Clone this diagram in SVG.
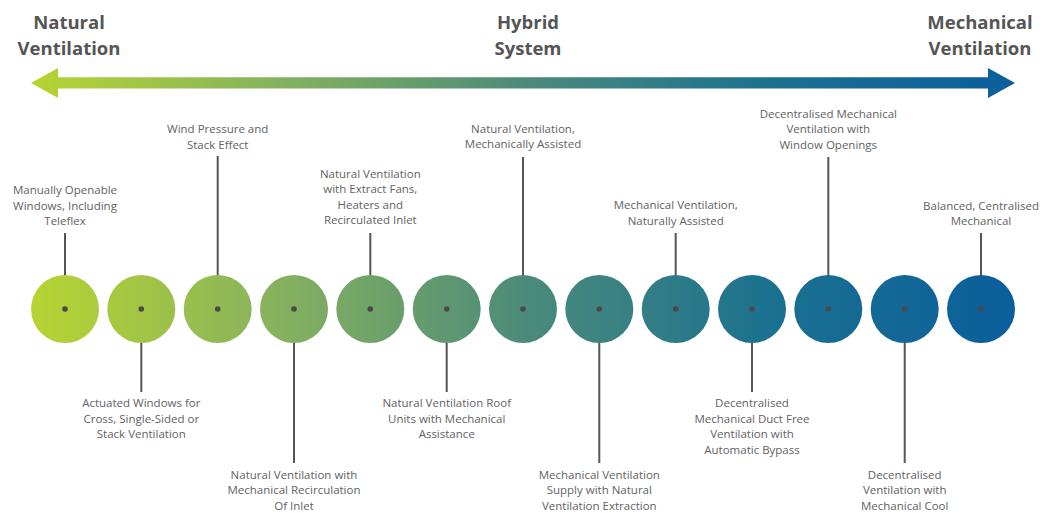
<svg xmlns="http://www.w3.org/2000/svg" width="1040" height="513" viewBox="0 0 1040 513">
<style>
.title{font-family:"Open Sans","Liberation Sans",sans-serif;font-weight:bold;font-size:18.5px;fill:#555555;text-anchor:middle}
.lbl{font-family:"Open Sans","Liberation Sans",sans-serif;font-size:11.5px;fill:#626262;text-anchor:middle}
.lead{stroke:#555555;stroke-width:2;fill:none}
.dot{fill:#4a4a4a}
.c{fill:url(#g)}
</style>
<defs>
<linearGradient id="g" gradientUnits="userSpaceOnUse" x1="31" y1="0" x2="1015" y2="0">
<stop offset="0" stop-color="#b8d432"/>
<stop offset="0.25" stop-color="#86b25e"/>
<stop offset="0.5" stop-color="#4c8b7a"/>
<stop offset="0.75" stop-color="#1b7190"/>
<stop offset="1" stop-color="#0a5e9c"/>
</linearGradient>
</defs>
<rect width="1040" height="513" fill="#ffffff"/>
<g id="scale">
<polygon points="31,83 58,68 58,77.3 988,77.3 988,68 1015,83 988,98 988,88.5 58,88.5 58,98" fill="url(#g)"/>
<text class="title" x="69" y="29">Natural</text>
<text class="title" x="69" y="55">Ventilation</text>
<text class="title" x="528" y="29">Hybrid</text>
<text class="title" x="528" y="55">System</text>
<text class="title" x="980" y="29">Mechanical</text>
<text class="title" x="980" y="55">Ventilation</text>
</g>
<g id="connectors">
<line class="lead" x1="65" y1="233" x2="65" y2="309"/>
<line class="lead" x1="141.3" y1="309" x2="141.3" y2="392"/>
<line class="lead" x1="217.7" y1="156" x2="217.7" y2="309"/>
<line class="lead" x1="294" y1="309" x2="294" y2="463"/>
<line class="lead" x1="370.3" y1="233" x2="370.3" y2="309"/>
<line class="lead" x1="446.7" y1="309" x2="446.7" y2="392"/>
<line class="lead" x1="523" y1="157" x2="523" y2="309"/>
<line class="lead" x1="599.3" y1="309" x2="599.3" y2="463"/>
<line class="lead" x1="675.7" y1="233" x2="675.7" y2="309"/>
<line class="lead" x1="752" y1="309" x2="752" y2="392"/>
<line class="lead" x1="828.3" y1="157" x2="828.3" y2="309"/>
<line class="lead" x1="904.7" y1="309" x2="904.7" y2="463"/>
<line class="lead" x1="981" y1="233" x2="981" y2="309"/>
</g>
<g id="n1"><circle class="c" cx="65" cy="309" r="34"/><circle class="dot" cx="65" cy="309" r="2.8"/>
<text class="lbl" x="65" y="194">Manually Openable</text><text class="lbl" x="65" y="210">Windows, Including</text><text class="lbl" x="65" y="225">Teleflex</text></g>
<g id="n2"><circle class="c" cx="141.3" cy="309" r="34"/><circle class="dot" cx="141.3" cy="309" r="2.8"/>
<text class="lbl" x="141.3" y="407">Actuated Windows for</text><text class="lbl" x="141.3" y="423">Cross, Single-Sided or</text><text class="lbl" x="141.3" y="438">Stack Ventilation</text></g>
<g id="n3"><circle class="c" cx="217.7" cy="309" r="34"/><circle class="dot" cx="217.7" cy="309" r="2.8"/>
<text class="lbl" x="217.7" y="133">Wind Pressure and</text><text class="lbl" x="217.7" y="149">Stack Effect</text></g>
<g id="n4"><circle class="c" cx="294" cy="309" r="34"/><circle class="dot" cx="294" cy="309" r="2.8"/>
<text class="lbl" x="294" y="479">Natural Ventilation with</text><text class="lbl" x="294" y="494">Mechanical Recirculation</text><text class="lbl" x="294" y="510">Of Inlet</text></g>
<g id="n5"><circle class="c" cx="370.3" cy="309" r="34"/><circle class="dot" cx="370.3" cy="309" r="2.8"/>
<text class="lbl" x="370.3" y="178">Natural Ventilation</text><text class="lbl" x="370.3" y="193">with Extract Fans,</text><text class="lbl" x="370.3" y="209">Heaters and</text><text class="lbl" x="370.3" y="224">Recirculated Inlet</text></g>
<g id="n6"><circle class="c" cx="446.7" cy="309" r="34"/><circle class="dot" cx="446.7" cy="309" r="2.8"/>
<text class="lbl" x="446.7" y="407">Natural Ventilation Roof</text><text class="lbl" x="446.7" y="423">Units with Mechanical</text><text class="lbl" x="446.7" y="438">Assistance</text></g>
<g id="n7"><circle class="c" cx="523" cy="309" r="34"/><circle class="dot" cx="523" cy="309" r="2.8"/>
<text class="lbl" x="523" y="133">Natural Ventilation,</text><text class="lbl" x="523" y="148">Mechanically Assisted</text></g>
<g id="n8"><circle class="c" cx="599.3" cy="309" r="34"/><circle class="dot" cx="599.3" cy="309" r="2.8"/>
<text class="lbl" x="599.3" y="479">Mechanical Ventilation</text><text class="lbl" x="599.3" y="494">Supply with Natural</text><text class="lbl" x="599.3" y="510">Ventilation Extraction</text></g>
<g id="n9"><circle class="c" cx="675.7" cy="309" r="34"/><circle class="dot" cx="675.7" cy="309" r="2.8"/>
<text class="lbl" x="675.7" y="209">Mechanical Ventilation,</text><text class="lbl" x="675.7" y="225">Naturally Assisted</text></g>
<g id="n10"><circle class="c" cx="752" cy="309" r="34"/><circle class="dot" cx="752" cy="309" r="2.8"/>
<text class="lbl" x="752" y="407">Decentralised</text><text class="lbl" x="752" y="423">Mechanical Duct Free</text><text class="lbl" x="752" y="438">Ventilation with</text><text class="lbl" x="752" y="454">Automatic Bypass</text></g>
<g id="n11"><circle class="c" cx="828.3" cy="309" r="34"/><circle class="dot" cx="828.3" cy="309" r="2.8"/>
<text class="lbl" x="828.3" y="118">Decentralised Mechanical</text><text class="lbl" x="828.3" y="133">Ventilation with</text><text class="lbl" x="828.3" y="149">Window Openings</text></g>
<g id="n12"><circle class="c" cx="904.7" cy="309" r="34"/><circle class="dot" cx="904.7" cy="309" r="2.8"/>
<text class="lbl" x="904.7" y="479">Decentralised</text><text class="lbl" x="904.7" y="494">Ventilation with</text><text class="lbl" x="904.7" y="510">Mechanical Cool</text></g>
<g id="n13"><circle class="c" cx="981" cy="309" r="34"/><circle class="dot" cx="981" cy="309" r="2.8"/>
<text class="lbl" x="981" y="210">Balanced, Centralised</text><text class="lbl" x="981" y="225">Mechanical</text></g>
</svg>
